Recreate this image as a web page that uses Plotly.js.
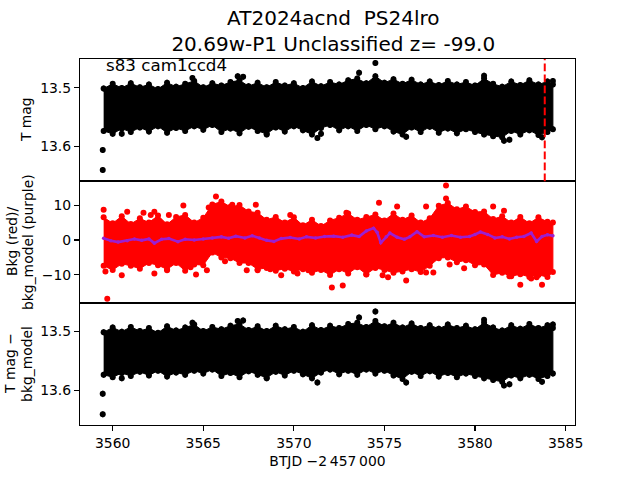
<!DOCTYPE html>
<html>
<head>
<meta charset="utf-8">
<script src="https://cdn.plot.ly/plotly-3.0.1.min.js"></script>
<style>html,body{margin:0;padding:0;background:#fff;}</style>
</head>
<body>
<div id="chart" style="width:640px;height:480px;"></div>
<script>
// ---------- data ----------
const tGrid = [3559.5,3560.0,3560.5,3561.0,3561.5,3562.0,3562.5,3563.0,3563.5,3564.0,3564.5,3565.0,3565.5,3566.0,3566.5,3567.0,3567.5,3568.0,3568.5,3569.0,3569.5,3570.0,3570.5,3571.0,3571.5,3572.0,3572.5,3573.0,3573.5,3574.0,3574.5,3575.0,3575.5,3576.0,3576.5,3577.0,3577.5,3578.0,3578.5,3579.0,3579.5,3580.0,3580.5,3581.0,3581.5,3582.0,3582.5,3583.0,3583.5,3584.0,3584.3];

// Panel 1: T mag band (top edge = brightest, bottom edge = faintest)
const tmagTop = [13.501,13.493,13.500,13.492,13.499,13.494,13.502,13.491,13.498,13.493,13.488,13.499,13.492,13.496,13.490,13.487,13.497,13.491,13.499,13.490,13.496,13.492,13.500,13.489,13.497,13.490,13.494,13.487,13.484,13.492,13.480,13.491,13.485,13.493,13.486,13.494,13.489,13.495,13.488,13.494,13.490,13.496,13.484,13.493,13.498,13.489,13.495,13.487,13.494,13.489,13.494];
const tmagBottom = [13.574,13.579,13.570,13.576,13.568,13.575,13.566,13.577,13.569,13.574,13.566,13.572,13.564,13.576,13.570,13.578,13.567,13.574,13.579,13.568,13.575,13.566,13.573,13.580,13.569,13.564,13.573,13.566,13.574,13.564,13.571,13.566,13.575,13.580,13.568,13.576,13.567,13.577,13.570,13.578,13.571,13.576,13.580,13.583,13.585,13.574,13.580,13.573,13.581,13.576,13.571];
const tmagOutT = [3559.45,3559.45,3564.4,3566.9,3567.2,3573.6,3574.5,3580.5,3584.3,3560.5,3568.5,3571.3,3571.5,3576.2,3581.6,3581.9,3583.7];
const tmagOutV = [13.607,13.641,13.483,13.480,13.481,13.474,13.457,13.479,13.488,13.579,13.580,13.586,13.579,13.584,13.591,13.589,13.585];

// Panel 2: background flux (red) and background model (purple)
const bkgTop = [6.5,4.8,6.8,4.6,6.2,5.0,7.0,4.5,6.6,7.2,5.0,6.4,10.2,11.0,9.5,10.0,8.2,7.8,5.8,6.6,5.0,6.5,4.2,5.8,4.0,5.6,6.4,7.6,5.8,6.6,7.3,5.6,7.6,5.8,7.0,5.0,6.2,9.8,10.6,8.8,9.6,8.0,8.2,6.0,6.8,5.0,6.6,4.8,6.5,5.2,5.0];
const bkgBottom = [-7.4,-8.6,-6.8,-7.4,-8.2,-6.6,-7.2,-8.4,-6.6,-8.8,-7.0,-7.2,-3.6,-5.0,-5.2,-6.6,-6.6,-8.4,-8.0,-8.8,-8.2,-9.0,-8.4,-9.4,-8.6,-10.0,-8.4,-9.6,-7.8,-9.8,-8.0,-8.6,-9.4,-9.0,-8.4,-9.2,-7.4,-5.2,-5.0,-6.4,-5.8,-7.2,-7.0,-10.0,-9.4,-10.4,-9.8,-10.6,-10.0,-10.6,-9.2];
const bkgOutT = [3559.5,3560.8,3561.7,3562.1,3562.3,3563.1,3563.9,3565.3,3565.7,3566.6,3567.9,3569.8,3559.6,3560.5,3562.3,3563.0,3564.3,3564.6,3565.2,3566.2,3567.4,3568.0,3568.7,3569.3,3570.2,3570.8,3559.7,3572.1,3572.7,3572.9,3574.0,3574.7,3574.9,3575.2,3575.7,3576.2,3577.3,3577.3,3577.7,3578.4,3578.4,3578.6,3579.4,3581.0,3581.6,3581.9,3582.5,3583.1,3583.4,3583.7];
const bkgOutV = [8.7,8.1,7.8,7.2,8.1,7.2,9.9,9.3,12.5,10.1,10.1,7.2,-9.0,-10.1,-9.6,-8.7,-7.8,-9.9,-8.7,-6.1,-8.7,-8.7,-8.4,-10.1,-9.6,-8.7,-16.8,-13.6,-13.0,7.8,-9.9,10.7,-10.1,-10.7,9.6,-11.6,9.6,-9.3,-9.3,15.6,11.9,-7.0,-8.1,9.6,8.4,-10.4,-12.8,-11.0,-10.7,-12.8];
const modelT = [3559.5,3559.9,3560.3,3560.8,3561.2,3561.6,3562.0,3562.3,3562.7,3563.1,3563.6,3564.0,3564.5,3565.0,3565.5,3566.0,3566.4,3566.8,3567.3,3567.7,3568.1,3568.5,3568.9,3569.3,3569.8,3570.3,3570.7,3571.2,3571.7,3572.2,3572.7,3573.2,3573.6,3574.0,3574.4,3574.6,3574.8,3575.1,3575.3,3575.7,3576.1,3576.4,3576.8,3577.2,3577.7,3578.2,3578.7,3579.2,3579.7,3580.0,3580.3,3580.7,3581.1,3581.5,3581.9,3582.3,3582.7,3583.1,3583.4,3583.7,3584.0,3584.3];
const modelV = [0.5,-0.2,-0.6,-0.2,0.3,-0.1,0.3,-0.9,0.2,0.4,-0.5,0.2,0.0,0.3,0.6,0.9,0.5,1.1,0.6,1.2,0.6,-0.1,-0.4,0.4,0.7,0.3,0.9,0.6,1.0,1.1,0.8,1.4,1.0,2.6,3.4,2.2,-0.8,0.9,2.0,0.8,0.2,0.9,2.4,0.9,1.3,0.8,1.3,0.8,1.0,1.6,2.3,1.6,0.6,0.9,0.3,0.8,1.0,2.0,-0.4,1.0,1.5,1.2];

// Panel 3: T mag - bkg_model band
const corrTop = [13.502,13.494,13.501,13.493,13.500,13.495,13.503,13.492,13.499,13.494,13.489,13.500,13.493,13.497,13.491,13.488,13.498,13.492,13.500,13.491,13.497,13.493,13.501,13.490,13.498,13.491,13.495,13.488,13.486,13.493,13.483,13.492,13.486,13.494,13.487,13.495,13.490,13.496,13.489,13.495,13.491,13.497,13.486,13.494,13.499,13.490,13.496,13.488,13.495,13.490,13.495];
const corrBottom = [13.574,13.578,13.571,13.576,13.569,13.575,13.567,13.577,13.570,13.574,13.567,13.572,13.565,13.576,13.571,13.578,13.568,13.574,13.579,13.569,13.575,13.567,13.573,13.580,13.570,13.565,13.573,13.567,13.574,13.565,13.572,13.567,13.575,13.581,13.569,13.576,13.568,13.577,13.571,13.578,13.572,13.576,13.580,13.583,13.586,13.575,13.580,13.574,13.581,13.576,13.572];
const corrOutT = [3559.45,3559.45,3564.4,3566.9,3567.2,3573.6,3574.5,3580.5,3584.3,3560.5,3568.5,3571.3,3576.2,3581.6,3581.9,3583.7];
const corrOutV = [13.606,13.641,13.486,13.483,13.482,13.477,13.467,13.481,13.489,13.580,13.580,13.587,13.587,13.592,13.590,13.586];

const markerT = [3583.85];   // dashed red vertical line
const xTicks = [3560,3565,3570,3575,3580,3585];
const tmagTicks = [13.5,13.6];
const bkgTicks = [-10,0,10];
const bkgTickText = ['\u221210','0','10'];

// ---------- traces ----------
function band(t, top, bot, color, xa, ya){
  return {x: t.concat(t.slice().reverse()), y: top.concat(bot.slice().reverse()),
    xaxis: xa, yaxis: ya, mode:'lines', fill:'toself', fillcolor:color,
    line:{color:color, width:1}, hoverinfo:'skip'};
}
function pts(t, v, color, xa, ya, size, err){
  const tr = {x:t, y:v, xaxis:xa, yaxis:ya, mode:'markers',
    marker:{size:size, color:color, line:{width:0}}};
  if (err) tr.error_y = {type:'constant', value:err, color:color, thickness:1.6, width:0};
  return tr;
}
const traces = [
  band(tGrid, tmagTop, tmagBottom, 'black', 'x', 'y'),
  pts(tGrid.concat(tGrid), tmagTop.concat(tmagBottom), 'black', 'x', 'y', 6, 0.005),
  pts(tmagOutT, tmagOutV, 'black', 'x', 'y', 6, 0.005),

  band(tGrid, bkgTop, bkgBottom, '#ff0000', 'x2', 'y2'),
  pts(tGrid.concat(tGrid), bkgTop.concat(bkgBottom), '#ff0000', 'x2', 'y2', 6, 0),
  pts(bkgOutT, bkgOutV, '#ff0000', 'x2', 'y2', 6, 0),
  {x:modelT, y:modelV, xaxis:'x2', yaxis:'y2', mode:'lines+markers',
    line:{color:'#9b1fd1', width:2.6}, marker:{size:3.5, color:'#9b1fd1'}},

  band(tGrid, corrTop, corrBottom, 'black', 'x3', 'y3'),
  pts(tGrid.concat(tGrid), corrTop.concat(corrBottom), 'black', 'x3', 'y3', 6, 0.005),
  pts(corrOutT, corrOutV, 'black', 'x3', 'y3', 6, 0.005)
];

// ---------- layout ----------
const font = {family:'DejaVu Sans', size:13.9, color:'black'};
const baseAx = {showline:true, linecolor:'black', linewidth:1.1, mirror:true, showgrid:false, zeroline:false,
  ticks:'outside', ticklen:5, tickwidth:1.1, tickcolor:'black', tickfont:font};
const xRange = [3558.195, 3585.52];
const d1 = [0.6662, 1], d2 = [0.3338, 0.6662], d3 = [0, 0.3338];

function ylab(text, px, ya, dom){
  return {text:text, xref:'paper', yref:'paper', x:(px-80)/495, y:(dom[0]+dom[1])/2,
    textangle:-90, showarrow:false, font:font, xanchor:'center', yanchor:'middle'};
}

const layout = {
  width:640, height:480,
  margin:{l:80, r:65, t:58.5, b:54.5, pad:0},
  paper_bgcolor:'white', plot_bgcolor:'white', showlegend:false, font:font,
  title:{text:'AT2024acnd \u00a0PS24lro<br>20.69w-P1 Unclassified z= -99.0',
    font:{family:'DejaVu Sans', size:20, color:'black'},
    x:0.5117, xanchor:'center', xref:'paper', yref:'container', y:0.948, yanchor:'top'},
  xaxis:Object.assign({}, baseAx, {domain:[0,1], anchor:'y', range:xRange, matches:'x3', showticklabels:false, ticks:''}),
  xaxis2:Object.assign({}, baseAx, {domain:[0,1], anchor:'y2', range:xRange, matches:'x3', showticklabels:false, ticks:''}),
  xaxis3:Object.assign({}, baseAx, {domain:[0,1], anchor:'y3', range:xRange, tickvals:xTicks,
    title:{text:'BTJD \u22122\u2009457\u2009000', font:font, standoff:6}}),
  yaxis:Object.assign({}, baseAx, {domain:d1, anchor:'x', range:[13.6604, 13.4503], tickvals:tmagTicks, ticktext:['13.5','13.6']}),
  yaxis2:Object.assign({}, baseAx, {domain:d2, anchor:'x2', range:[-18.0, 16.86], tickvals:bkgTicks, ticktext:bkgTickText}),
  yaxis3:Object.assign({}, baseAx, {domain:d3, anchor:'x3', range:[13.659, 13.4522], tickvals:tmagTicks, ticktext:['13.5','13.6']}),
  shapes:[{type:'line', xref:'x', yref:'y domain', x0:markerT[0], x1:markerT[0], y0:0, y1:1,
    line:{color:'#ff0000', width:2, dash:'7.7px,3.3px'}}],
  annotations:[
    {text:'s83 cam1ccd4', xref:'paper', yref:'paper', x:(104-80)/495, y:(425.5-65)/367,
      xanchor:'left', yanchor:'middle', showarrow:false, font:{family:'DejaVu Sans', size:16.7, color:'black'}},
    ylab('T mag', 26, 'y', d1),
    ylab('Bkg (red)/', 12, 'y2', d2),
    ylab('bkg_model (purple)', 28, 'y2', d2),
    ylab('T mag \u2212', 10, 'y3', d3),
    ylab('bkg_model', 27, 'y3', d3)
  ]
};

Plotly.newPlot('chart', traces, layout, {staticPlot:true, displayModeBar:false});
</script>
</body>
</html>
